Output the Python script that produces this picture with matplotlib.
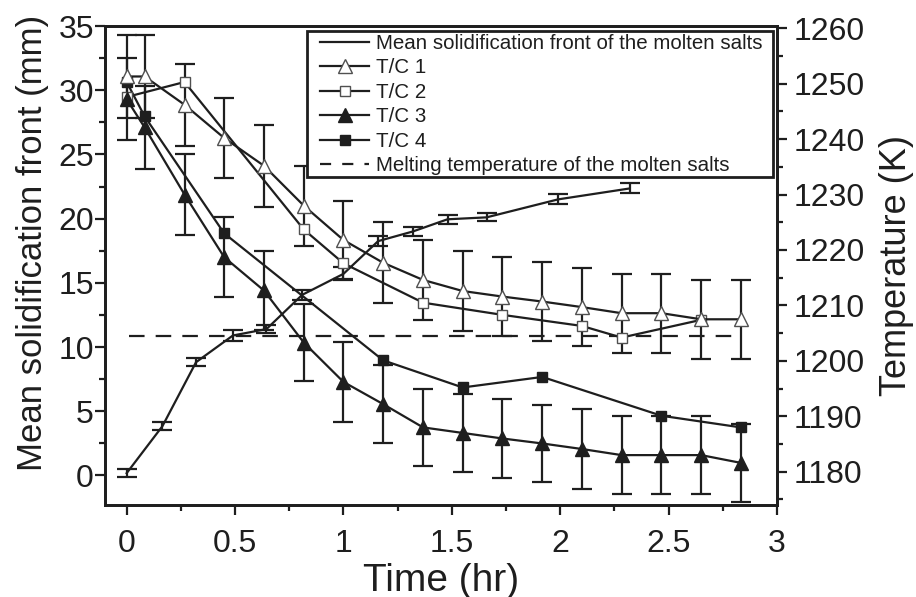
import matplotlib
matplotlib.use("Agg")
import matplotlib.pyplot as plt
from matplotlib.lines import Line2D
from matplotlib.patches import Rectangle
from matplotlib.ticker import MultipleLocator

plt.rcParams['font.family'] = ['Liberation Sans', 'DejaVu Sans']

# ---------------- data ----------------
time_front = [0, 0.165, 0.32, 0.49, 0.645, 0.81, 1.0, 1.16, 1.32, 1.48, 1.66, 1.99, 2.32]
front = [0.18, 3.84, 8.82, 10.9, 11.4, 14.07, 15.7, 18.25, 19.0, 19.95, 20.1, 21.5, 22.35]
front_err = [0.3, 0.3, 0.3, 0.4, 0.3, 0.4, 0.5, 0.4, 0.35, 0.37, 0.31, 0.39, 0.39]

time_tc = [0, 0.083, 0.267, 0.45, 0.633, 0.817, 1.0, 1.183, 1.367, 1.55,
           1.733, 1.917, 2.1, 2.283, 2.467, 2.65, 2.833]
tc1 = [1251.3, 1251.3, 1246.2, 1240.2, 1235.2, 1228.0, 1221.8, 1217.7, 1214.6,
       1212.6, 1211.6, 1210.7, 1209.7, 1208.6, 1208.6, 1207.5, 1207.5]
tc1_err = [7.5, 7.5, 7.4, 7.3, 7.4, 7.2, 7.1, 7.3, 7.2, 7.2, 7.1, 7.2, 7.1, 7.1, 7.1, 7.1, 7.1]
tc3 = [1247.2, 1242.1, 1230.0, 1218.7, 1212.7, 1203.3, 1196.2, 1192.2, 1188.0,
       1187.0, 1186.0, 1185.1, 1184.1, 1183.0, 1183.0, 1183.0, 1181.6]
tc3_err = [7.4, 7.4, 7.3, 7.2, 7.2, 7.0, 7.2, 7.0, 7.0, 7.1, 7.1, 7.0, 7.2, 7.0, 7.1, 7.1, 7.1]

time_tc2 = [0, 0.267, 0.817, 1.0, 1.367, 1.733, 2.1, 2.283, 2.65]
tc2 = [1247.6, 1250.3, 1223.7, 1217.6, 1210.5, 1208.3, 1206.3, 1204.2, 1207.4]

time_tc4 = [0, 0.083, 0.45, 1.183, 1.55, 1.917, 2.467, 2.833]
tc4 = [1250.3, 1244.1, 1223.0, 1200.1, 1195.2, 1197.1, 1190.1, 1188.0]

melt_time = [0.01, 2.84]
melt_temp = [1204.4, 1204.4]

labels = ['Mean solidification front of the molten salts', 'T/C 1', 'T/C 2',
          'T/C 3', 'T/C 4', 'Melting temperature of the molten salts']

# ---------------- plot ----------------
C = '#1e1e1e'
EDGE = '#505050'
LW = 1.6
fig = plt.figure(figsize=(9.16, 5.97), dpi=100)
ax = fig.add_axes([0.1146, 0.1541, 0.8483 - 0.1146, 0.9564 - 0.1541])
ax2 = ax.twinx()

# mean front (left axis)
ax.errorbar(time_front, front, yerr=front_err, fmt='none', ecolor=C,
            elinewidth=LW, capsize=7.5, capthick=LW)
ax.plot(time_front, front, color=C, lw=LW)

# thermocouples (right axis)
ax2.errorbar(time_tc, tc1, yerr=tc1_err, fmt='none', ecolor=C,
             elinewidth=LW, capsize=7.5, capthick=LW, zorder=2)
ax2.errorbar(time_tc, tc3, yerr=tc3_err, fmt='none', ecolor=C,
             elinewidth=LW, capsize=7.5, capthick=LW, zorder=2)
ax2.plot(melt_time, melt_temp, color=C, lw=LW, linestyle=(0, (7, 5)), zorder=2)
ax2.plot(time_tc4, tc4, color=C, lw=LW, marker='s', ms=7, mfc=C, mec=C, zorder=3)
ax2.plot(time_tc2, tc2, color=C, lw=LW, marker='s', ms=7, mfc='white', mec=EDGE,
         mew=1.0, zorder=3)
ax2.plot(time_tc, tc3, color=C, lw=LW, marker='^', ms=10, mfc=C, mec=C, zorder=3)
ax2.plot(time_tc, tc1, color=C, lw=LW, marker='^', ms=10, mfc='white', mec=EDGE,
         mew=1.0, zorder=4)

# axes limits and ticks
ax.set_xlim(-0.1, 3.0)
ax.set_ylim(-2.3, 35)
ax2.set_ylim(1174.0, 1260.4)

ax.xaxis.set_minor_locator(MultipleLocator(0.25))
ax.yaxis.set_major_locator(MultipleLocator(5))
ax.yaxis.set_minor_locator(MultipleLocator(2.5))
ax2.yaxis.set_minor_locator(MultipleLocator(5))
ax.set_xticks([0, 0.5, 1, 1.5, 2, 2.5, 3])
ax.set_xticklabels(['0', '0.5', '1', '1.5', '2', '2.5', '3'])
ax2.set_yticks([1180, 1190, 1200, 1210, 1220, 1230, 1240, 1250, 1260])

for a in (ax, ax2):
    for s in a.spines.values():
        s.set_linewidth(2.0)
        s.set_color(C)
    a.tick_params(which='major', direction='out', length=7, width=1.6, labelsize=23,
                  colors=C, pad=3)
    a.tick_params(which='minor', direction='out', length=4, width=1.6, colors=C)
ax.tick_params(axis='x', pad=10)
ax.tick_params(axis='y', which='both', right=False, pad=1)
ax2.tick_params(axis='y', pad=5)

ax.set_xlabel('Time (hr)', fontsize=28, color=C, labelpad=3)
ax.set_ylabel('Mean solidification front (mm)', fontsize=25, color=C)
ax.yaxis.set_label_coords(-0.083, 0.548)
ax2.set_ylabel('Temperature (K)', fontsize=26, color=C)
ax2.yaxis.set_label_coords(1.152, 0.50)

# legend with a manually drawn frame
frame = Rectangle((307 / 916, 1 - 177 / 597), 466 / 916, 146 / 597,
                  transform=fig.transFigure, fill=True, facecolor='white',
                  edgecolor=C, linewidth=2.0, zorder=5)
ax2.add_artist(frame)
handles = [
    Line2D([], [], color=C, lw=LW),
    Line2D([], [], color=C, lw=LW, marker='^', ms=10, mfc='white', mec=EDGE, mew=1.0),
    Line2D([], [], color=C, lw=LW, marker='s', ms=7, mfc='white', mec=EDGE, mew=1.0),
    Line2D([], [], color=C, lw=LW, marker='^', ms=10, mfc=C, mec=C),
    Line2D([], [], color=C, lw=LW, marker='s', ms=7, mfc=C, mec=C),
    Line2D([], [], color=C, lw=LW, linestyle=(0, (5, 5))),
]
leg = ax2.legend(handles, labels, loc='upper left',
                 bbox_to_anchor=(320 / 916, 1 - 34 / 597), bbox_transform=fig.transFigure,
                 fontsize=14.8, frameon=False, handlelength=2.4, handletextpad=0.3,
                 labelspacing=0.265, borderpad=0.0, borderaxespad=0.0)
leg.set_zorder(6)
for t in leg.get_texts():
    t.set_color(C)

fig.savefig('out.png', dpi=100)
